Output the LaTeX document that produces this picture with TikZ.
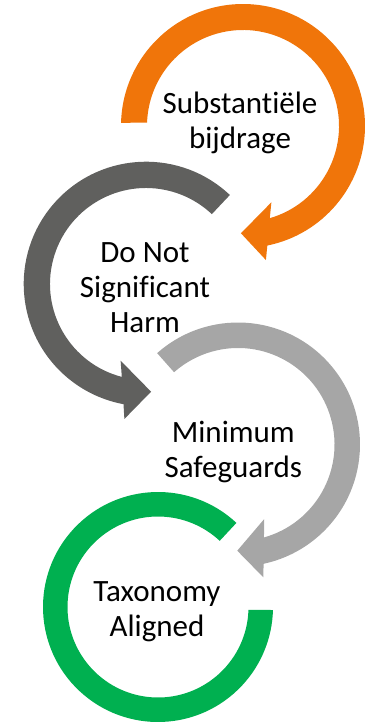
\documentclass[tikz,border=0pt]{standalone}
\usepackage{fontspec}
\setmainfont{Carlito}[Ligatures=NoCommon]
\usepackage{tikz}
\definecolor{sborange}{RGB}{240,117,10}
\definecolor{dnshgray}{RGB}{96,96,94}
\definecolor{msgray}{RGB}{166,166,166}
\definecolor{tagreen}{RGB}{0,176,80}
\tikzstyle{ringtext} = [draw=none, align=center, text centered, text=black, font=\fontsize{31}{35}\selectfont]
\tikzstyle{ring} = [draw=none]

\begin{document}
\begin{tikzpicture}[x=1pt, y=1pt]
	\useasboundingbox (0,0) rectangle (364,-722);
	\coordinate (c_sb) at (243,-126);
	\coordinate (c_dnsh) at (146,-284);
	\coordinate (c_ms) at (238,-444.5);
	\coordinate (c_ta) at (158,-607);
	
	% orange ring, clockwise
	\begin{scope}[shift={(c_sb)}]
		\fill[ring, sborange] (178.5:122pt) arc[start angle=178.5, end angle=-78.5, radius=122pt]
			-- (-80.3:136pt) -- (-91.1:107.3pt) -- (-69.6:81.4pt)
			-- (-73.8:96pt) arc[start angle=-73.8, end angle=178, radius=96pt] -- cycle;
	\end{scope}
	% dark grey ring, anticlockwise
	\begin{scope}[shift={(c_dnsh)}]
		\fill[ring, dnshgray] (46.7:122.3pt) arc[start angle=46.7, end angle=259.4, radius=122.3pt]
			-- (260.9:136.7pt) -- (272.7:107.8pt) -- (251.7:80.8pt)
			-- (255.4:96pt) arc[start angle=255.4, end angle=46.7, radius=96pt] -- cycle;
	\end{scope}
	% light grey ring, clockwise
	\begin{scope}[shift={(c_ms)}]
		\fill[ring, msgray] (131.5:122pt) arc[start angle=131.5, end angle=-77.9, radius=122pt]
			-- (-79.2:135.2pt) -- (-90.4:106.2pt) -- (-70.6:79pt)
			-- (-74.4:96.5pt) arc[start angle=-74.4, end angle=131.5, radius=96.5pt] -- cycle;
	\end{scope}
	% green ring, no arrow
	\begin{scope}[shift={(c_ta)}]
		\fill[ring, tagreen] (47:115pt) arc[start angle=47, end angle=358.5, radius=115pt]
			-- (358.2:90.5pt) arc[start angle=358.2, end angle=47, radius=90.5pt] -- cycle;
	\end{scope}
	
	\node (sb) [ringtext] at (240,-123) {Substantiële\\bijdrage};
	\node (dnsh) [ringtext] at (145,-287.3) {Do Not\\Significant\\Harm};
	\node (ms) [ringtext] at (233.3,-452.4) {Minimum\\Safeguards};
	\node (ta) [ringtext] at (157,-611.6) {Taxonomy\\Aligned};
\end{tikzpicture}
\end{document}
